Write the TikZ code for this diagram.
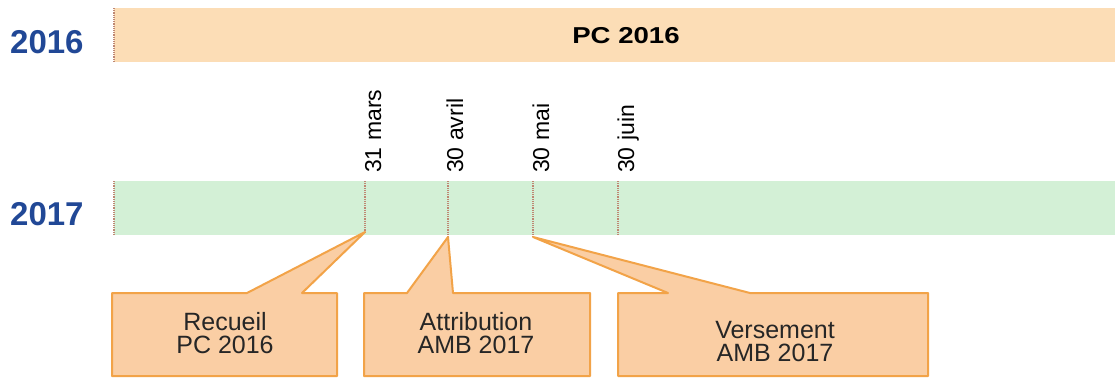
\documentclass[tikz,border=0pt]{standalone}
\usepackage{fontspec}
\setmainfont{Liberation Sans}
\definecolor{yearblue}{RGB}{33,72,150}
\definecolor{barorange}{RGB}{252,221,182}
\definecolor{bargreen}{RGB}{211,240,214}
\definecolor{callfill}{RGB}{250,206,164}
\definecolor{callline}{RGB}{242,163,72}
\definecolor{tickcol}{RGB}{190,135,115}
\tikzset{
  yearlabel/.style={text=yearblue, font=\fontsize{33}{33}\selectfont\bfseries, inner sep=0pt, anchor=base west},
  barbox/.style={draw=none, inner sep=0pt, anchor=north west, minimum width=1001pt, minimum height=54pt},
  datelabel/.style={rotate=90, anchor=base west, inner sep=0pt, font=\fontsize{23}{23}\selectfont, text=black},
  tickline/.style={tickcol, densely dotted, line width=1.2pt},
  callout/.style={fill=callfill, draw=callline, line width=2pt, line join=round},
  calltext/.style={anchor=base, inner sep=0pt, font=\fontsize{25}{23}\selectfont, text=black!85}
}
\begin{document}
\begin{tikzpicture}[x=1pt,y=-1pt]
\useasboundingbox (0,0) rectangle (1115,378);
\fill[white] (0,0) rectangle (1115,378);

% year labels
\node[yearlabel] (y16) at (10,53) {2016};
\node[yearlabel] (y17) at (10,225) {2017};

% bars
\node[barbox, fill=barorange] (bar16) at (114,8) {};
\node[barbox, fill=bargreen, minimum height=54pt] (bar17) at (114,181) {};
\node[anchor=base, inner sep=0pt, font=\fontsize{23}{23}\selectfont\bfseries] (pc16) at (626,43) {\scalebox{1.2}[1]{PC 2016}};

% left dotted edges
\draw[tickline] (bar16.north west) -- (bar16.south west);
\draw[tickline] (bar17.north west) -- (bar17.south west);

% tick positions
\coordinate (t1top) at (365,181);
\coordinate (t2top) at (448,181);
\coordinate (t3top) at (533,181);
\coordinate (t4top) at (618,181);
\coordinate (t1) at (365,232);
\coordinate (t2) at (448,237);
\coordinate (t3) at (533,237);
\coordinate (t4) at (618,235);
\draw[tickline] (t1top) -- (t1);
\draw[tickline] (t2top) -- (t2);
\draw[tickline] (t3top) -- (t3);
\draw[tickline] (t4top) -- (t4);

% date labels
\node[datelabel] (d1) at (381,173) {31 mars};
\node[datelabel] (d2) at (463,173) {30 avril};
\node[datelabel] (d3) at (549,173) {30 mai};
\node[datelabel] (d4) at (634,173) {30 juin};

% callouts
\draw[callout] (112,376) -- (112,293) -- (247,293) -- (t1) -- (302,293) -- (337,293) -- (337,376) -- cycle;
\draw[callout] (364,376) -- (364,293) -- (407,293) -- (t2) -- (453,293) -- (590,293) -- (590,376) -- cycle;
\draw[callout] (618,376) -- (618,293) -- (668,293) -- (t3) -- (750,293) -- (928,293) -- (928,376) -- cycle;

\node[calltext] (c1a) at (225,330) {Recueil};
\node[calltext] (c1b) at (225,353) {PC 2016};
\node[calltext] (c2a) at (476,330) {Attribution};
\node[calltext] (c2b) at (476,353) {AMB 2017};
\node[calltext] (c3a) at (775,338) {Versement};
\node[calltext] (c3b) at (775,361) {AMB 2017};
\end{tikzpicture}
\end{document}
